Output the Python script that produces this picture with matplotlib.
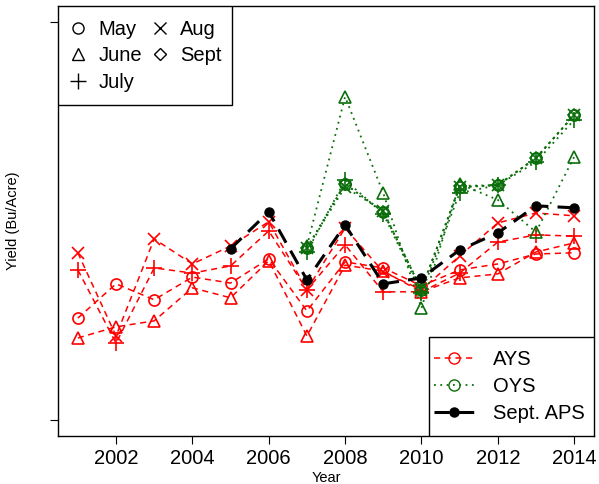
import matplotlib.pyplot as plt
from matplotlib.lines import Line2D
from matplotlib.patches import Rectangle

plt.rcParams['font.family'] = ['Liberation Sans', 'DejaVu Sans']

years = list(range(2001, 2015))
oys_years = list(range(2007, 2015))
aps_years = list(range(2005, 2015))

# AYS by forecast month (red)
ays_may = [125.6, 134.2, 130.2, 135.9, 134.4, 140.5, 127.4, 139.7, 138.2, 133.7, 137.7, 139.2, 141.7, 142.0]
ays_june = [120.6, 123.4, 124.9, 133.2, 130.7, 140.0, 121.1, 138.9, 137.4, 132.2, 135.7, 136.7, 142.2, 144.5]
ays_july = [137.7, 119.3, 138.2, 136.9, 138.7, 147.5, 132.7, 144.0, 132.2, 132.2, 136.9, 144.7, 146.5, 146.2]
ays_aug = [142.0, 121.1, 145.5, 139.2, 143.7, 149.8, 132.7, 148.2, 137.2, 132.7, 141.2, 149.5, 152.0, 151.3]

# OYS by forecast month (green)
oys_may = [143.2, 159.3, 152.3, 132.7, 158.5, 159.0, 165.8, 176.6]
oys_june = [143.7, 181.2, 157.0, 128.1, 159.3, 155.3, 147.2, 166.1]
oys_july = [142.2, 160.3, 151.8, 131.9, 157.0, 159.0, 164.8, 175.4]
oys_aug = [143.2, 158.5, 152.5, 132.9, 158.5, 159.0, 165.8, 176.6]
oys_sept = [143.2, 159.3, 152.3, 132.7, 158.8, 159.0, 165.8, 176.6]

# Sept. APS (black)
aps_sept = [143.0, 152.3, 135.2, 149.0, 134.2, 135.7, 142.7, 147.0, 153.8, 153.3]

month_names = ["May", "June", "July", "Aug", "Sept"]
month_markers = ["o", "^", "+", "x", "D"]
month_sizes = [8, 9, 11, 8, 6.5]

fig = plt.figure(figsize=(5.99, 4.84), dpi=100)
ax = fig.add_axes([58 / 599, 48 / 484, 536 / 599, 430 / 484])

red = "#ff0000"
green = "#0a6e0a"

ays = [ays_may, ays_june, ays_july, ays_aug]
for vals, mk, ms in zip(ays, month_markers, month_sizes):
    ax.plot(years, vals, color=red, linestyle=(0, (4, 3)), linewidth=1.1,
            marker=mk, markersize=ms, markerfacecolor="none",
            markeredgecolor=red, markeredgewidth=1.2)

oys = [oys_may, oys_june, oys_july, oys_aug, oys_sept]
for vals, mk, ms in zip(oys, month_markers, month_sizes):
    ax.plot(oys_years, vals, color=green, linestyle=(0, (1, 2.5)), linewidth=1.3,
            marker=mk, markersize=ms, markerfacecolor="none",
            markeredgecolor=green, markeredgewidth=1.2)

ax.plot(aps_years, aps_sept, color="black", linestyle=(0, (5, 3)), linewidth=2.2,
        marker="o", markersize=6.5, markerfacecolor="black", markeredgecolor="black")

ax.set_xlim(2000.48, 2014.52)
ax.set_ylim(95.98, 204.0)
ax.set_xticks(range(2002, 2015, 2))
ax.set_yticks([100, 200])
ax.set_yticklabels(["", ""])
ax.tick_params(axis="x", labelsize=14.5, length=6, width=0.8, pad=3)
ax.tick_params(axis="y", length=6, width=0.8)
for s in ax.spines.values():
    s.set_linewidth(1.0)

ax.set_xlabel("Year", fontsize=10.5)
ax.xaxis.set_label_coords(0.5, -0.081)
ax.set_ylabel("Yield (Bu/Acre)", fontsize=10.5)
ax.yaxis.set_label_coords(-0.071, 0.5)

# legend boxes drawn by hand (R style)
box1 = Rectangle((0, 0.770), 0.3246, 0.230, transform=ax.transAxes,
                 facecolor="white", edgecolor="black", linewidth=1.0, zorder=5)
box2 = Rectangle((0.692, 0), 0.308, 0.230, transform=ax.transAxes,
                 facecolor="white", edgecolor="black", linewidth=1.0, zorder=5)
ax.add_patch(box1)
ax.add_patch(box2)

# month symbol legend (top left)
sym_handles = []
for name, mk, ms in zip(month_names, month_markers, month_sizes):
    sym_handles.append(Line2D([], [], linestyle="none", marker=mk, markersize=ms,
                              markerfacecolor="none", markeredgecolor="black",
                              markeredgewidth=1.0, label=name))
leg1 = ax.legend(handles=sym_handles, loc="center", bbox_to_anchor=(0.1615, 0.884),
                 ncol=2, fontsize=14.5, frameon=False, borderpad=0,
                 handlelength=1.0, handletextpad=0.5, columnspacing=0.38,
                 labelspacing=0.36)
leg1.set_zorder(6)
ax.add_artist(leg1)

series_handles = [
    Line2D([], [], color=red, linestyle=(0, (4, 3)), linewidth=1.1, marker="o",
           markersize=8, markerfacecolor="none", markeredgecolor=red, label="AYS"),
    Line2D([], [], color=green, linestyle=(0, (1, 2.5)), linewidth=1.3, marker="o",
           markersize=8, markerfacecolor="none", markeredgecolor=green, label="OYS"),
    Line2D([], [], color="black", linestyle=(0, (5, 3)), linewidth=2.2, marker="o",
           markersize=6.5, markerfacecolor="black", label="Sept. APS"),
]
leg2 = ax.legend(handles=series_handles, loc="center", bbox_to_anchor=(0.842, 0.115),
                 fontsize=14.5, frameon=False, borderpad=0,
                 handlelength=1.95, handletextpad=0.95, labelspacing=0.38)
leg2.set_zorder(6)

fig.savefig("out.png", dpi=100)
